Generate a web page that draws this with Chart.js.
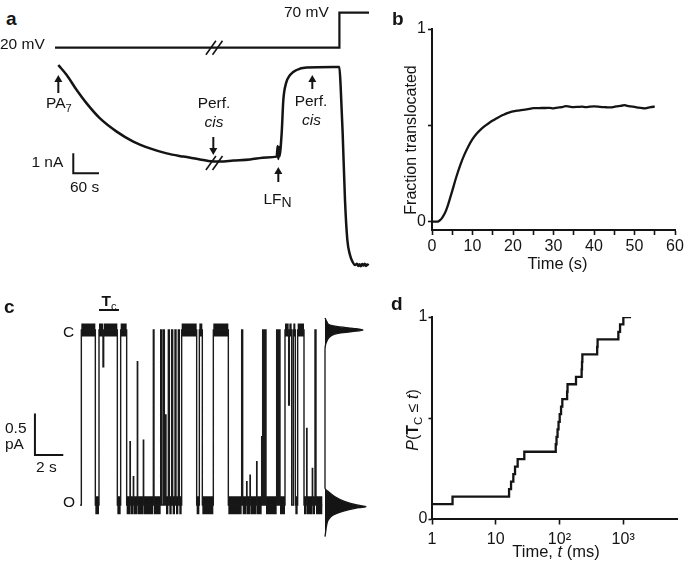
<!DOCTYPE html>
<html>
<head>
<meta charset="utf-8">
<title>Figure</title>
<script src="https://cdn.jsdelivr.net/npm/chart.js@4.4.1/dist/chart.umd.min.js"></script>
<style>
html,body{margin:0;padding:0;background:#fff;}
#fig{position:relative;width:685px;height:569px;overflow:hidden;background:#fff;font-family:"Liberation Sans",Arial,Helvetica,sans-serif;color:#141414;}
#fig canvas{position:absolute;}
.tx{position:absolute;white-space:nowrap;line-height:1;}
.tx sub{font-size:0.72em;vertical-align:-0.32em;line-height:0;}
</style>
</head>
<body>
<div id="fig">
<canvas id="ca" width="343" height="280" style="left:41px;top:0px"></canvas>
<canvas id="cb" width="310" height="290" style="left:380px;top:0px"></canvas>
<canvas id="cc" width="330" height="270" style="left:0px;top:290px"></canvas>
<canvas id="ch" width="70" height="270" style="left:320px;top:290px"></canvas>
<canvas id="cd" width="310" height="279" style="left:380px;top:290px"></canvas>
</div>
<script>
// ================= DATA =================
// Panel a: applied voltage (mV) and macroscopic current (nA) vs time (s)
const aVoltTime = [-7.3, 656, 656, 725];
const aVoltMV   = [20, 20, 70, 70];
const aCurTime = [0.4, 19.9, 43.2, 66.5, 97.6, 136.5, 175.3, 214.2, 253.1, 292.0,
                  330.8, 350.3, 377.5, 408.6, 447.5, 486.3, 509.7, 512.0, 513.6, 515.1,
                  515.9, 521.3, 525.2, 531.4, 540.8, 556.3, 579.6, 641.8, 655.8, 658.9,
                  663.6, 669.0, 674.5, 680.7, 686.9, 692.4, 697, 700, 703, 706,
                  709, 712, 715, 718, 721, 724];
const aCurNA   = [10.0, 9.5, 8.75, 8.08, 7.33, 6.67, 6.17, 5.83, 5.58, 5.42,
                  5.28, 5.2, 5.17, 5.22, 5.28, 5.38, 5.42, 5.95, 5.3, 5.9,
                  5.42, 6.58, 8.25, 9.08, 9.5, 9.75, 9.87, 9.9, 9.9, 8.92,
                  6.58, 3.25, 1.25, 0.5, 0.15, 0.0, 0.06, -0.05, 0.04, -0.06,
                  0.05, -0.03, 0.06, -0.05, 0.03, -0.02];

// Panel b: fraction translocated vs time (s)
const bTime = [0,1,1.6,2,2.5,3,3.5,4,4.5,5,6,7,8,9,10,11,12,13,14,15,16,17,18,19,20,
               21,22,23,24,25,26,27,28,29,30,31,32,33,34,35,36,37,38,39,40,41,42,43,44,45,
               46,47,47.5,48,49,50,51,52,52.5,53,54,55];
const bFraction = [0,0,0.002,0.008,0.02,0.037,0.06,0.09,0.125,0.16,0.232,0.295,0.348,0.392,0.428,
               0.456,0.478,0.496,0.511,0.525,0.537,0.549,0.558,0.566,0.572,
               0.576,0.579,0.582,0.585,0.589,0.589,0.59,0.59,0.591,0.588,
               0.592,0.594,0.6,0.597,0.595,0.596,0.597,0.595,0.597,0.598,
               0.597,0.595,0.594,0.593,0.596,0.6,0.603,0.605,0.602,0.598,0.596,0.592,0.589,0.588,
               0.59,0.595,0.597];
const bXTicks = [0,5,10,15,20,25,30,35,40,45,50,55,60];
const bXTickLabels = ['0','','10','','20','','30','','40','','50','','60'];
const bYTicks = [0, 0.5, 1];
const bYTickLabels = ['0','','1'];

// Panel c: single-channel current (pA) transitions vs time (s); C = closed, O = open
const cLevelC = 0;
const cLevelO = -2.1;
const cTime = [0, 0.094, 1.082, 1.341, 1.623, 1.670, 2.635, 2.870, 3.293, 3.529,
               3.552, 3.764, 3.787, 4.046, 4.070, 4.470, 4.493, 5.175, 5.222, 5.693,
               5.763, 5.881, 5.952, 6.046, 6.069, 6.234, 6.305, 6.469, 6.540, 6.704,
               6.775, 6.940, 7.010, 7.175, 8.233, 8.422, 8.633, 9.409, 10.468, 11.409,
               11.480, 11.762, 11.785, 11.997, 12.020, 12.468, 12.491, 12.820, 12.843, 12.891,
               12.961, 13.056, 13.126, 13.879, 13.950, 14.044, 14.114, 14.467, 14.726, 14.773,
               14.938, 15.055, 15.197, 15.361, 15.808, 15.996, 16.019, 16.396, 16.419, 16.584,
               16.655, 17.10];
const cCurrent = [-2.1, 0, -2.1, 0, -0.44, 0, -2.1, 0, -2.1, -1.34,
                  -2.1, -1.76, -2.1, -0.38, -2.1, -1.32, -2.1, 0, -2.1, 0,
                  -2.1, 0, -2.1, -1.02, -2.1, 0, -2.1, 0, -2.1, 0,
                  -2.1, 0, -2.1, 0, -2.1, 0, -2.1, 0, -2.1, 0,
                  -2.1, -1.82, -2.1, -1.74, -2.1, -1.58, -2.1, -1.28, -2.1, 0,
                  -2.1, 0, -2.1, 0, -2.1, 0, -2.1, 0, -0.9, 0,
                  -2.1, 0, -2.1, 0, -2.1, -1.18, -2.1, -1.66, -2.1, 0,
                  -2.1, -2.1];
// Panel c: all-points amplitude histogram (current pA, relative count)
const hCurrent = [0.144, 0.096, 0.06, 0.04, 0.02, 0, -0.02, -0.04, -0.08, -0.14, -0.18, -0.24,
                  -1.897, -1.937, -1.999, -2.058, -2.098, -2.119, -2.138, -2.179, -2.218, -2.278, -2.338, -2.418, -2.478];
const hCount   = [0, 0.049, 0.122, 0.317, 0.683, 0.927, 0.659, 0.317, 0.122, 0.041, 0.012, 0,
                  0, 0.08, 0.244, 0.488, 0.773, 1.0, 0.732, 0.407, 0.202, 0.08, 0.041, 0.017, 0];

// Panel d: cumulative distribution of closed durations
const dTime = [1, 2.1, 16.2, 17.4, 18.9, 20.1, 22.1, 28.1, 87.5, 90, 93.4, 96.8, 101, 106, 111,
               132, 134, 182, 223, 226, 229, 391, 397, 841, 894, 1007, 1331];
const dProb = [0.074, 0.111, 0.148, 0.185, 0.222, 0.259, 0.296, 0.333, 0.370, 0.407, 0.444, 0.481, 0.519, 0.556, 0.593,
               0.630, 0.667, 0.704, 0.741, 0.778, 0.815, 0.852, 0.889, 0.926, 0.963, 1.0, 1.0];
const dXTicks = [1, 10, 100, 1000];
const dXTickLabels = ['1', '10', '10\u00B2', '10\u00B3'];
const dYTicks = [0, 0.5, 1];
const dYTickLabels = ['0', '', '1'];

// ================= LAYOUT / STYLE =================
const INK = '#141414';
const FONT = '"Liberation Sans", Arial, Helvetica, sans-serif';
Chart.defaults.font.family = FONT;
Chart.defaults.color = INK;
Chart.defaults.animation = false;

function xSpan(left, width, refPx, refVal, ppu){ return {min: refVal + (left - refPx)/ppu, max: refVal + (left + width - refPx)/ppu}; }
function ySpan(top, height, refPx, refVal, ppu){ return {max: refVal + (refPx - top)/ppu, min: refVal + (refPx - top - height)/ppu}; }
const pts = (xs, ys) => xs.map((x, i) => ({x: x, y: ys[i]}));
const hidden = (s) => Object.assign({type: 'linear', display: false}, s);
const baseOpts = (extra) => Object.assign({
  responsive: false, animation: false, events: [],
  layout: {padding: 0},
  plugins: {legend: {display: false}, tooltip: {enabled: false}}
}, extra);

// ---------- annotation helpers ----------
function arrow(ctx, x, yTail, yTip){
  const dir = Math.sign(yTip - yTail), head = 7, hw = 4;
  ctx.beginPath(); ctx.moveTo(x, yTail); ctx.lineTo(x, yTip - dir * head * 0.7); ctx.stroke();
  ctx.beginPath(); ctx.moveTo(x, yTip); ctx.lineTo(x - hw, yTip - dir * head); ctx.lineTo(x + hw, yTip - dir * head); ctx.closePath(); ctx.fill();
}
function breakMark(ctx, cx, cy){
  for (const off of [-3.3, 3.3]) { ctx.beginPath(); ctx.moveTo(cx + off - 5, cy + 7); ctx.lineTo(cx + off + 5, cy - 7); ctx.stroke(); }
}

// ---------- Panel a ----------
const aArrows = [{t: 0.4, from: 8.6, to: 9.5}, {t: 361.9, from: 6.4, to: 5.5}, {t: 513.5, from: 4.15, to: 4.9}, {t: 592.8, from: 8.8, to: 9.5}];
const aBar = {t: 35.3, i: 4.585, dt: 60, di: 1};
const aBreakT = 364;
const aDecor = {id: 'aDecor', afterDatasetsDraw(chart){
  const {ctx} = chart, x = chart.scales.x, y = chart.scales.y, v = chart.scales.v;
  ctx.save(); ctx.strokeStyle = INK; ctx.fillStyle = INK; ctx.lineCap = 'butt';
  ctx.lineWidth = 2;
  for (const a of aArrows) arrow(ctx, x.getPixelForValue(a.t), y.getPixelForValue(a.from), y.getPixelForValue(a.to));
  ctx.beginPath();
  ctx.moveTo(x.getPixelForValue(aBar.t), y.getPixelForValue(aBar.i + aBar.di));
  ctx.lineTo(x.getPixelForValue(aBar.t), y.getPixelForValue(aBar.i));
  ctx.lineTo(x.getPixelForValue(aBar.t + aBar.dt), y.getPixelForValue(aBar.i));
  ctx.stroke();
  ctx.lineWidth = 1.6;
  breakMark(ctx, x.getPixelForValue(aBreakT), v.getPixelForValue(20));
  breakMark(ctx, x.getPixelForValue(aBreakT), y.getPixelForValue(5.1));
  ctx.restore();
}};
new Chart(document.getElementById('ca'), {
  type: 'line',
  data: {datasets: [
    {data: pts(aVoltTime, aVoltMV), yAxisID: 'v', borderColor: INK, borderWidth: 2.2, pointRadius: 0, tension: 0},
    {data: pts(aCurTime, aCurNA), yAxisID: 'y', borderColor: INK, borderWidth: 2.5, pointRadius: 0, cubicInterpolationMode: 'monotone'}
  ]},
  options: baseOpts({scales: {
    x: hidden(xSpan(41, 343, 58.15, 0, 0.42875)),
    y: hidden(ySpan(0, 280, 265, 0, 20)),
    v: hidden(ySpan(0, 280, 47.7, 20, 0.7))
  }}),
  plugins: [aDecor]
});

// ---------- Panel b ----------
function axisCommon(tickLen, pad){
  return {
    grid: {display: true, drawOnChartArea: false, drawTicks: true, tickLength: tickLen, tickWidth: 1.6, tickColor: INK},
    border: {display: true, color: INK, width: 2},
    ticks: {autoSkip: false, maxRotation: 0, padding: pad, font: {size: 16}, color: INK}
  };
}
const bx = axisCommon(5, 2), by = axisCommon(4, 2);
bx.ticks.callback = (v, i) => bXTickLabels[i];
by.ticks.callback = (v, i) => bYTickLabels[i];
new Chart(document.getElementById('cb'), {
  type: 'line',
  data: {datasets: [{data: pts(bTime, bFraction), borderColor: INK, borderWidth: 2.3, pointRadius: 0, cubicInterpolationMode: 'monotone'}]},
  options: baseOpts({
    layout: {padding: {left: 0, top: 29, right: 15, bottom: 0}},
    scales: {
      x: Object.assign(bx, {type: 'linear', min: 0, max: 60,
        afterBuildTicks: s => { s.ticks = bXTicks.map(v => ({value: v})); },
        afterFit: s => { s.height = 60; }}),
      y: Object.assign(by, {type: 'linear', min: -0.043, max: 1,
        afterBuildTicks: s => { s.ticks = bYTicks.map(v => ({value: v})); },
        afterFit: s => { s.width = 52; }})
    }
  })
});

// ---------- Panel c ----------
function bandPoints(level, minDur){
  const out = [];
  for (let i = 0; i < cTime.length - 1; i++) {
    if (cCurrent[i] === level && cTime[i + 1] - cTime[i] >= minDur) {
      out.push({x: cTime[i], y: level}, {x: cTime[i + 1], y: level}, {x: cTime[i + 1], y: null});
    }
  }
  return out;
}
const cBar = {t: -3.18, i: -1.5, dt: 2, di: 0.5};
const cTcBar = {t0: 1.34, t1: 2.75, i: 0.24};
const cDecor = {id: 'cDecor', afterDatasetsDraw(chart){
  const {ctx} = chart, x = chart.scales.x, y = chart.scales.y;
  ctx.save(); ctx.strokeStyle = INK; ctx.lineWidth = 2;
  ctx.beginPath();
  ctx.moveTo(x.getPixelForValue(cBar.t), y.getPixelForValue(cBar.i + cBar.di));
  ctx.lineTo(x.getPixelForValue(cBar.t), y.getPixelForValue(cBar.i));
  ctx.lineTo(x.getPixelForValue(cBar.t + cBar.dt), y.getPixelForValue(cBar.i));
  ctx.stroke();
  ctx.beginPath();
  ctx.moveTo(x.getPixelForValue(cTcBar.t0), y.getPixelForValue(cTcBar.i));
  ctx.lineTo(x.getPixelForValue(cTcBar.t1), y.getPixelForValue(cTcBar.i));
  ctx.stroke();
  ctx.restore();
}};
const cY = ySpan(290, 270, 330, 0, 83.4);
new Chart(document.getElementById('cc'), {
  type: 'line',
  data: {datasets: [
    {data: pts(cTime, cCurrent), stepped: true, borderColor: '#1a1a1a', borderWidth: 1.4, pointRadius: 0},
    {data: bandPoints(cLevelC, 0.12), borderColor: '#161616', borderWidth: 13, pointRadius: 0, spanGaps: false, borderCapStyle: 'butt'},
    {data: bandPoints(cLevelO, 0.12), borderColor: '#161616', borderWidth: 18, pointRadius: 0, spanGaps: false, borderCapStyle: 'butt'}
  ]},
  options: baseOpts({scales: {
    x: hidden(xSpan(0, 330, 80, 0, 14.17)),
    y: hidden(cY)
  }}),
  plugins: [cDecor]
});
new Chart(document.getElementById('ch'), {
  type: 'line',
  data: {datasets: [{data: pts(hCount, hCurrent), indexAxis: 'y', borderColor: INK, borderWidth: 1.3, backgroundColor: INK,
    fill: 'origin', pointRadius: 0, cubicInterpolationMode: 'monotone'}]},
  options: baseOpts({indexAxis: 'y', scales: {
    x: hidden(xSpan(320, 70, 325, 0, 41)),
    y: hidden(cY)
  }})
});

// ---------- Panel d ----------
const dx = axisCommon(5.5, 5), dy = axisCommon(3.5, 1);
dx.ticks.callback = (v, i) => dXTickLabels[i];
dy.ticks.callback = (v, i) => dYTickLabels[i];
new Chart(document.getElementById('cd'), {
  type: 'line',
  data: {datasets: [{data: pts(dTime, dProb), stepped: true, borderColor: INK, borderWidth: 2.3, pointRadius: 0}]},
  options: baseOpts({
    layout: {padding: {left: 0, top: 27, right: 13, bottom: 0}},
    scales: {
      x: Object.assign(dx, {type: 'logarithmic', min: 1, max: 7000,
        afterBuildTicks: s => { s.ticks = dXTicks.map(v => ({value: v})); },
        afterFit: s => { s.height = 50; }}),
      y: Object.assign(dy, {type: 'linear', min: 0, max: 1,
        afterBuildTicks: s => { s.ticks = dYTicks.map(v => ({value: v})); },
        afterFit: s => { s.width = 52; }})
    }
  })
});

// ================= TEXT =================
const fig = document.getElementById('fig');
function addText(html, x, base, size, align, style){
  const d = document.createElement('div');
  d.className = 'tx'; d.innerHTML = html; d.style.fontSize = size + 'px';
  d.style.top = (base - 0.8465 * size) + 'px';
  if (align === 'center') { d.style.left = x + 'px'; d.style.transform = 'translateX(-50%)'; }
  else if (align === 'right') { d.style.right = (685 - x) + 'px'; }
  else { d.style.left = x + 'px'; }
  if (style) Object.assign(d.style, style);
  fig.appendChild(d);
}
function addVText(html, cx, cy, size){
  const d = document.createElement('div');
  d.className = 'tx'; d.innerHTML = html; d.style.fontSize = size + 'px';
  d.style.left = cx + 'px'; d.style.top = cy + 'px';
  d.style.transform = 'translate(-50%,-50%) rotate(-90deg)';
  fig.appendChild(d);
}
const BOLD = {fontWeight: 'bold'};
// panel letters
addText('a', 6, 25, 19, 'left', BOLD);
addText('b', 392, 25, 19, 'left', BOLD);
addText('c', 4, 313, 19, 'left', BOLD);
addText('d', 391, 310, 19, 'left', BOLD);
// panel a
const S = 15.5;
addText('20 mV', 0, 49.5, S, 'left');
addText('70 mV', 284, 17, S, 'left');
addText('PA<sub>7</sub>', 46, 108.5, S, 'left');
addText('Perf.', 214, 108, S, 'center');
addText('<i>cis</i>', 214, 127, S, 'center');
addText('Perf.', 311, 106, S, 'center');
addText('<i>cis</i>', 311.5, 125, S, 'center');
addText('LF<span style="font-size:14px;position:relative;top:3px">N</span>', 277.5, 204, S, 'center');
addText('1 nA', 63.3, 167.5, S, 'right');
addText('60 s', 70, 192, S, 'left');
// panel b
addVText('Fraction translocated', 411, 139.5, 16);
addText('Time (s)', 557.5, 268.5, 16.5, 'center');
// panel c
addText('C', 63, 337, S, 'left');
addText('O', 63, 507, S, 'left');
addText('0.5', 5, 433, S, 'left');
addText('pA', 5, 449, S, 'left');
addText('2 s', 36, 472, S, 'left');
addText('<b>T</b><sub>c</sub>', 109, 306.5, S, 'center');
// panel d
addVText('<i>P</i>(<b>T</b><sub>C</sub> \u2264 <i>t</i>)', 412.5, 420, 16);
addText('Time, <i>t</i> (ms)', 556, 556.5, 16.5, 'center');
</script>
</body>
</html>
